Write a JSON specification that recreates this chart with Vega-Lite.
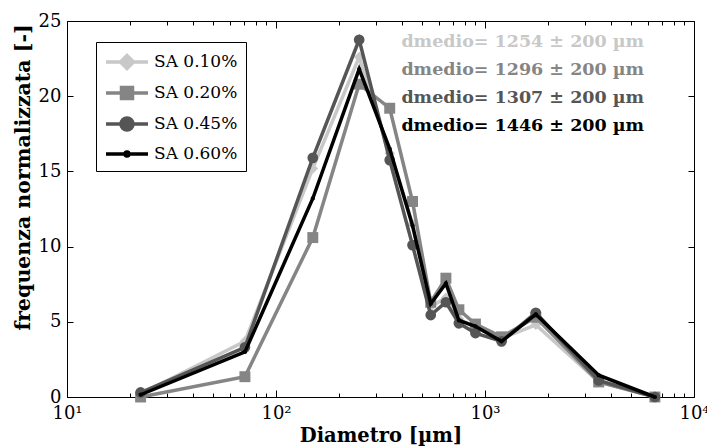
{
  "$schema": "https://vega.github.io/schema/vega-lite/v6.json",
  "autosize": "none",
  "width": 627,
  "height": 376,
  "padding": {"left": 67, "top": 21, "right": 13, "bottom": 50},
  "background": "white",
  "config": {
    "view": {"stroke": "black", "strokeWidth": 1},
    "axis": {"grid": false, "domain": false, "tickColor": "black", "tickWidth": 1, "labelFlush": false, "labelOverlap": false, "labelBound": false}
  },
  "datasets": {
    "pts": [
      {"series": "SA 0.10%", "d": 22.5, "f": 0.2},
      {"series": "SA 0.10%", "d": 71, "f": 3.7},
      {"series": "SA 0.10%", "d": 150, "f": 15.2},
      {"series": "SA 0.10%", "d": 250, "f": 22.6},
      {"series": "SA 0.10%", "d": 350, "f": 16.2},
      {"series": "SA 0.10%", "d": 450, "f": 11.5},
      {"series": "SA 0.10%", "d": 550, "f": 6.0},
      {"series": "SA 0.10%", "d": 650, "f": 6.6},
      {"series": "SA 0.10%", "d": 750, "f": 5.2},
      {"series": "SA 0.10%", "d": 900, "f": 4.6},
      {"series": "SA 0.10%", "d": 1200, "f": 3.9},
      {"series": "SA 0.10%", "d": 1750, "f": 4.8},
      {"series": "SA 0.10%", "d": 3500, "f": 1.0},
      {"series": "SA 0.10%", "d": 6500, "f": 0.05},
      {"series": "SA 0.20%", "d": 22.5, "f": 0.0},
      {"series": "SA 0.20%", "d": 71, "f": 1.35},
      {"series": "SA 0.20%", "d": 150, "f": 10.6},
      {"series": "SA 0.20%", "d": 250, "f": 20.8},
      {"series": "SA 0.20%", "d": 350, "f": 19.2},
      {"series": "SA 0.20%", "d": 450, "f": 13.0},
      {"series": "SA 0.20%", "d": 550, "f": 6.3},
      {"series": "SA 0.20%", "d": 650, "f": 7.9},
      {"series": "SA 0.20%", "d": 750, "f": 5.8},
      {"series": "SA 0.20%", "d": 900, "f": 4.85},
      {"series": "SA 0.20%", "d": 1200, "f": 4.0},
      {"series": "SA 0.20%", "d": 1750, "f": 5.3},
      {"series": "SA 0.20%", "d": 3500, "f": 1.0},
      {"series": "SA 0.20%", "d": 6500, "f": 0.0},
      {"series": "SA 0.45%", "d": 22.5, "f": 0.3},
      {"series": "SA 0.45%", "d": 71, "f": 3.3},
      {"series": "SA 0.45%", "d": 150, "f": 15.9},
      {"series": "SA 0.45%", "d": 250, "f": 23.75},
      {"series": "SA 0.45%", "d": 350, "f": 15.75},
      {"series": "SA 0.45%", "d": 450, "f": 10.1},
      {"series": "SA 0.45%", "d": 550, "f": 5.45},
      {"series": "SA 0.45%", "d": 650, "f": 6.3},
      {"series": "SA 0.45%", "d": 750, "f": 4.9},
      {"series": "SA 0.45%", "d": 900, "f": 4.25},
      {"series": "SA 0.45%", "d": 1200, "f": 3.7},
      {"series": "SA 0.45%", "d": 1750, "f": 5.6},
      {"series": "SA 0.45%", "d": 3500, "f": 1.1},
      {"series": "SA 0.45%", "d": 6500, "f": 0.0},
      {"series": "SA 0.60%", "d": 22.5, "f": 0.15},
      {"series": "SA 0.60%", "d": 71, "f": 3.0},
      {"series": "SA 0.60%", "d": 150, "f": 13.2},
      {"series": "SA 0.60%", "d": 250, "f": 21.8},
      {"series": "SA 0.60%", "d": 350, "f": 16.5},
      {"series": "SA 0.60%", "d": 450, "f": 11.4},
      {"series": "SA 0.60%", "d": 550, "f": 6.2},
      {"series": "SA 0.60%", "d": 650, "f": 7.55},
      {"series": "SA 0.60%", "d": 750, "f": 5.1},
      {"series": "SA 0.60%", "d": 900, "f": 4.7},
      {"series": "SA 0.60%", "d": 1200, "f": 3.7},
      {"series": "SA 0.60%", "d": 1750, "f": 5.5},
      {"series": "SA 0.60%", "d": 3500, "f": 1.45},
      {"series": "SA 0.60%", "d": 6500, "f": 0.0}
    ],
    "ann": [
      {"series": "SA 0.10%", "label": "dmedio= 1254 ± 200 µm", "d": 398, "f": 23.6},
      {"series": "SA 0.20%", "label": "dmedio= 1296 ± 200 µm", "d": 398, "f": 21.75},
      {"series": "SA 0.45%", "label": "dmedio= 1307 ± 200 µm", "d": 398, "f": 19.9},
      {"series": "SA 0.60%", "label": "dmedio= 1446 ± 200 µm", "d": 398, "f": 18.05}
    ]
  },
  "resolve": {"axis": {"x": "independent", "y": "independent"}},
  "layer": [
    {
      "data": {"name": "pts"},
      "transform": [{"filter": "datum.series === 'SA 0.10%'"}],
      "mark": {"type": "line", "strokeWidth": 3.5, "point": {"shape": "diamond", "size": 110, "filled": true, "opacity": 1}},
      "encoding": {
        "x": {"field": "d", "type": "quantitative", "scale": {"type": "log", "domain": [10, 10000], "nice": false},
          "axis": {"orient": "bottom", "values": [10, 100, 1000, 10000], "tickSize": -7, "labelPadding": 14,
            "labelExpr": "datum.value == 10 ? '10¹' : datum.value == 100 ? '10²' : datum.value == 1000 ? '10³' : '10⁴'",
            "labelFont": "DejaVu Serif", "labelFontSize": 18, "labelColor": "black",
            "title": "Diametro [µm]", "titleFont": "DejaVu Serif", "titleFontSize": 19.5, "titleFontWeight": "bold", "titleColor": "black", "titlePadding": 4}},
        "y": {"field": "f", "type": "quantitative", "scale": {"domain": [0, 25], "nice": false, "zero": true},
          "axis": {"orient": "left", "values": [0, 5, 10, 15, 20, 25], "tickSize": -6, "labelPadding": 12,
            "labelFont": "DejaVu Serif", "labelFontSize": 18, "labelColor": "black",
            "title": "frequenza normalizzata [-]", "titleFont": "DejaVu Serif", "titleFontSize": 20.5, "titleFontWeight": "bold", "titleColor": "black", "titlePadding": 5, "titleY": 156}},
        "color": {"field": "series", "type": "nominal",
          "scale": {"domain": ["SA 0.10%", "SA 0.20%", "SA 0.45%", "SA 0.60%"], "range": ["#c8c8c8", "#858585", "#555555", "#000000"]},
          "legend": {"orient": "none", "legendX": 29, "legendY": 21, "title": null, "padding": 8,
            "strokeColor": "black", "fillColor": "white",
            "labelFont": "DejaVu Serif", "labelFontSize": 17, "labelColor": "black", "labelOffset": 26,
            "symbolType": "stroke", "symbolSize": 400, "symbolStrokeWidth": 3.5, "rowPadding": 4,
            "encode": {
              "symbols": {
                "update": {
                  "shape": {"signal": "datum.value === 'SA 0.10%' ? 'M-1,0H3.2M1.1,-0.65L1.75,0L1.1,0.65L0.45,0Z' : datum.value === 'SA 0.20%' ? 'M-1,0H3.2M0.55,-0.55H1.65V0.55H0.55Z' : datum.value === 'SA 0.45%' ? 'M-1,0H3.2M0.5,0A0.6,0.6,0,1,0,1.7,0A0.6,0.6,0,1,0,0.5,0Z' : 'M-1,0H3.2M0.9,0A0.2,0.2,0,1,0,1.3,0A0.2,0.2,0,1,0,0.9,0Z'"},
                  "fill": {"scale": "color", "field": "value"},
                  "stroke": {"scale": "color", "field": "value"},
                  "strokeWidth": {"value": 3.5},
                  "opacity": {"value": 1}
                }
              }
            }}}
      }
    },
    {
      "data": {"name": "pts"},
      "transform": [{"filter": "datum.series === 'SA 0.20%'"}],
      "mark": {"type": "line", "strokeWidth": 3.5, "point": {"shape": "square", "size": 120, "filled": true, "opacity": 1}},
      "encoding": {
        "x": {"field": "d", "type": "quantitative",
          "axis": {"orient": "bottom", "values": [20, 30, 40, 50, 60, 70, 80, 90, 200, 300, 400, 500, 600, 700, 800, 900, 2000, 3000, 4000, 5000, 6000, 7000, 8000, 9000], "tickSize": -4, "labels": false, "title": null}},
        "y": {"field": "f", "type": "quantitative",
          "axis": {"orient": "right", "values": [0, 5, 10, 15, 20, 25], "tickSize": -6, "labels": false, "title": null}},
        "color": {"field": "series", "type": "nominal"}
      }
    },
    {
      "data": {"name": "pts"},
      "transform": [{"filter": "datum.series === 'SA 0.45%'"}],
      "mark": {"type": "line", "strokeWidth": 3.5, "point": {"shape": "circle", "size": 115, "filled": true, "opacity": 1}},
      "encoding": {
        "x": {"field": "d", "type": "quantitative",
          "axis": {"orient": "top", "values": [10, 100, 1000, 10000], "tickSize": -7, "labels": false, "title": null}},
        "y": {"field": "f", "type": "quantitative", "axis": null},
        "color": {"field": "series", "type": "nominal"}
      }
    },
    {
      "data": {"name": "pts"},
      "transform": [{"filter": "datum.series === 'SA 0.60%'"}],
      "mark": {"type": "line", "strokeWidth": 3.5, "point": {"shape": "circle", "size": 18, "filled": true, "opacity": 1}},
      "encoding": {
        "x": {"field": "d", "type": "quantitative",
          "axis": {"orient": "top", "values": [20, 30, 40, 50, 60, 70, 80, 90, 200, 300, 400, 500, 600, 700, 800, 900, 2000, 3000, 4000, 5000, 6000, 7000, 8000, 9000], "tickSize": -4, "labels": false, "title": null}},
        "y": {"field": "f", "type": "quantitative", "axis": null},
        "color": {"field": "series", "type": "nominal"}
      }
    },
    {
      "data": {"name": "ann"},
      "mark": {"type": "text", "align": "left", "baseline": "middle", "font": "DejaVu Serif", "fontSize": 17.5, "fontWeight": "bold"},
      "encoding": {
        "x": {"field": "d", "type": "quantitative", "axis": null},
        "y": {"field": "f", "type": "quantitative", "axis": null},
        "text": {"field": "label"},
        "color": {"field": "series", "type": "nominal"}
      }
    }
  ]
}
